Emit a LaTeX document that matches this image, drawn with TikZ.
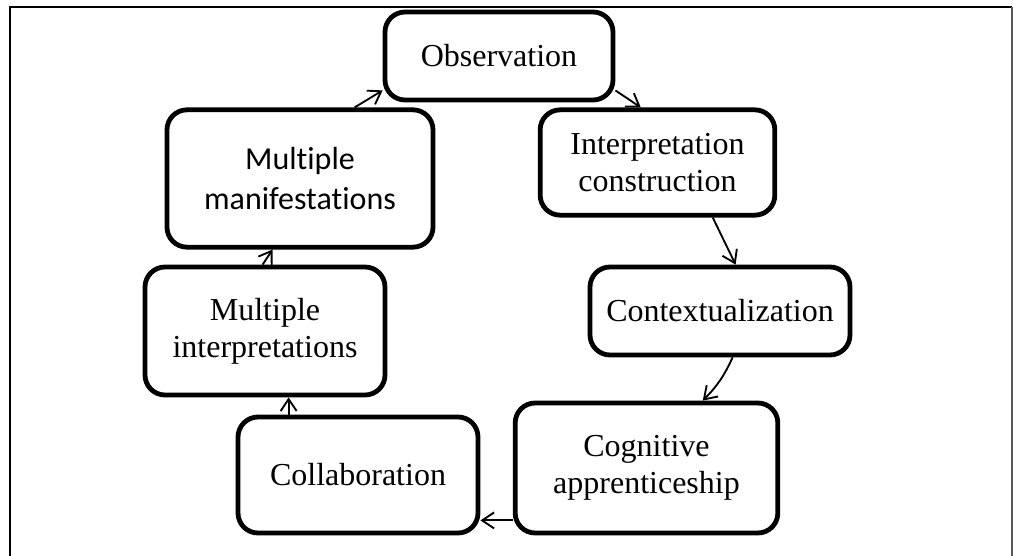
\documentclass[tikz,border=0pt]{standalone}
\usepackage{fontspec}
\setmainfont{Liberation Serif}
\newfontfamily\labelsans[Ligatures=NoCommon]{Carlito}
\usetikzlibrary{arrows.meta,calc}

\tikzset{
  stage/.style={draw, line width=3.6pt, rounded corners=15pt, inner sep=0pt,
    align=center, font=\fontsize{24}{28}\selectfont},
  stagesans/.style={stage, font=\labelsans\fontsize{24}{30}\selectfont},
  flow/.style={line width=1.4pt, -{Straight Barb[length=9pt,width=12pt,line width=1.4pt]}},
}

\begin{document}
\begin{tikzpicture}[x=0.75pt,y=-0.75pt]
  \useasboundingbox (0,0) rectangle (1014,556);

  % outer frame (open at the bottom)
  \draw[line width=2pt] (10,600) -- (10,7) -- (1012,7);
  \draw[line width=1.5pt, gray!70!black] (1012,7) -- (1012,600);

  % stages of the cycle
  \node[stage, minimum width=171pt, minimum height=66pt] (obs) at (499,56) {Observation};
  \node[stage, minimum width=176pt, minimum height=79pt] (interp) at (657.5,162.5) {Interpretation\\construction};
  \node[stage, minimum width=195pt, minimum height=66pt] (context) at (720,311) {Contextualization};
  \node[stage, minimum width=197pt, minimum height=97.5pt] (cog) at (646.5,468) {Cognitive\\apprenticeship};
  \node[stage, minimum width=180pt, minimum height=87pt] (collab) at (358,475) {Collaboration};
  \node[stage, minimum width=180pt, minimum height=96pt] (minterp) at (265,331) {Multiple\\interpretations};
  \node[stagesans, minimum width=199.5pt, minimum height=103pt] (mman) at (300,178.5) {Multiple\\manifestations};

  % connectors
  \draw[flow] ($(obs.south east)+(0,-12)$) -- ($(interp.north west)+(103,0)$);
  \draw[flow] ($(interp.south west)+(175,0)$) -- ($(context.north west)+(148,0)$);
  \draw[flow] ($(context.south west)+(145,0)$) to[bend left=10] ($(cog.north west)+(190,0)$);
  \draw[flow] ($(cog.south west)+(0,-15)$) -- ($(collab.south east)+(0,-15)$);
  \draw[flow] ($(collab.north west)+(53,0)$) -- ($(minterp.south west)+(146,0)$);
  \draw[flow] ($(minterp.north west)+(120,0)$) -- ($(mman.south west)+(108,0)$);
  \draw[flow] ($(mman.north west)+(190,0)$) -- ($(obs.south west)+(0,-12)$);
\end{tikzpicture}
\end{document}
